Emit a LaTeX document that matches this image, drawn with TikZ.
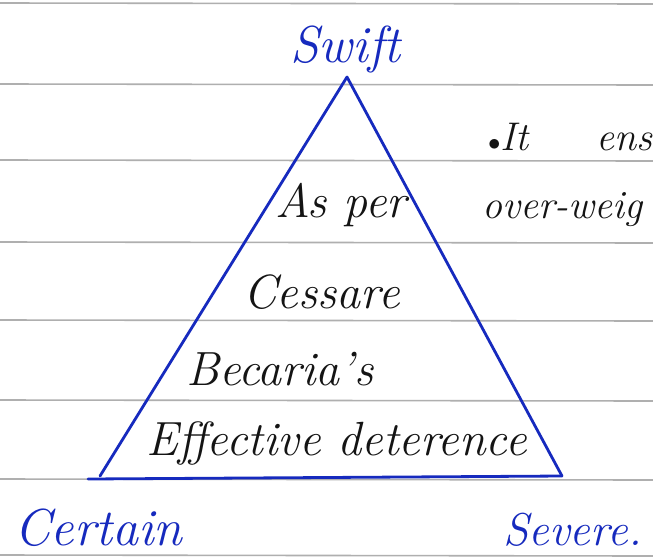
\documentclass[tikz,border=0pt]{standalone}
\usepackage{fontspec}
\definecolor{pen}{RGB}{22,42,190}
\definecolor{ink}{RGB}{20,20,20}
\definecolor{rule}{RGB}{175,175,175}
\begin{document}
\begin{tikzpicture}[x=1pt,y=-1pt,
  ruleline/.style={draw=rule,line width=1.6pt},
  edge/.style={draw=pen,line width=2.8pt,line cap=round,line join=round},
  bluetxt/.style={text=pen,inner sep=0pt,anchor=base west,font=\fontsize{52}{52}\selectfont\itshape},
  blacktxt/.style={text=ink,inner sep=0pt,anchor=base west,font=\fontsize{40}{40}\selectfont\itshape},
  innertxt/.style={text=ink,inner sep=0pt,anchor=base west,font=\fontsize{48}{48}\selectfont\itshape}]
\useasboundingbox (0,0) rectangle (653,558);
\fill[white] (0,0) rectangle (653,558);
\clip (0,0) rectangle (653,558);
% ruled paper lines
\foreach \y in {3,84,160,242,320,400,479,555}
  \draw[ruleline] (0,\y) -- (653,\y+1);
% triangle
\coordinate (top) at (347,77);
\coordinate (bl) at (100,476);
\coordinate (blx) at (88,479);
\coordinate (br) at (562,476);
\draw[edge] (bl) -- (top) -- (br);
\draw[edge] (blx) -- (br);
% labels
\node[bluetxt] (swift) at (290,62) {Swift};
\node[bluetxt] (certain) at (14,545) {Certain};
\node[bluetxt,font=\fontsize{46}{46}\selectfont\itshape] (severe) at (503,545) {Severe.};
\node[blacktxt] (it) at (488,150) {$\bullet$It};
\node[blacktxt] (ens) at (596,150) {ens};
\node[blacktxt] (over) at (482,218) {over-weig};
\node[innertxt] (asper) at (275,217) {As per};
\node[innertxt] (cessare) at (243,308) {Cessare};
\node[innertxt] (becaria) at (186,385) {Becaria's};
\node[innertxt] (effective) at (146,455) {Effective deterence};
\end{tikzpicture}
\end{document}
